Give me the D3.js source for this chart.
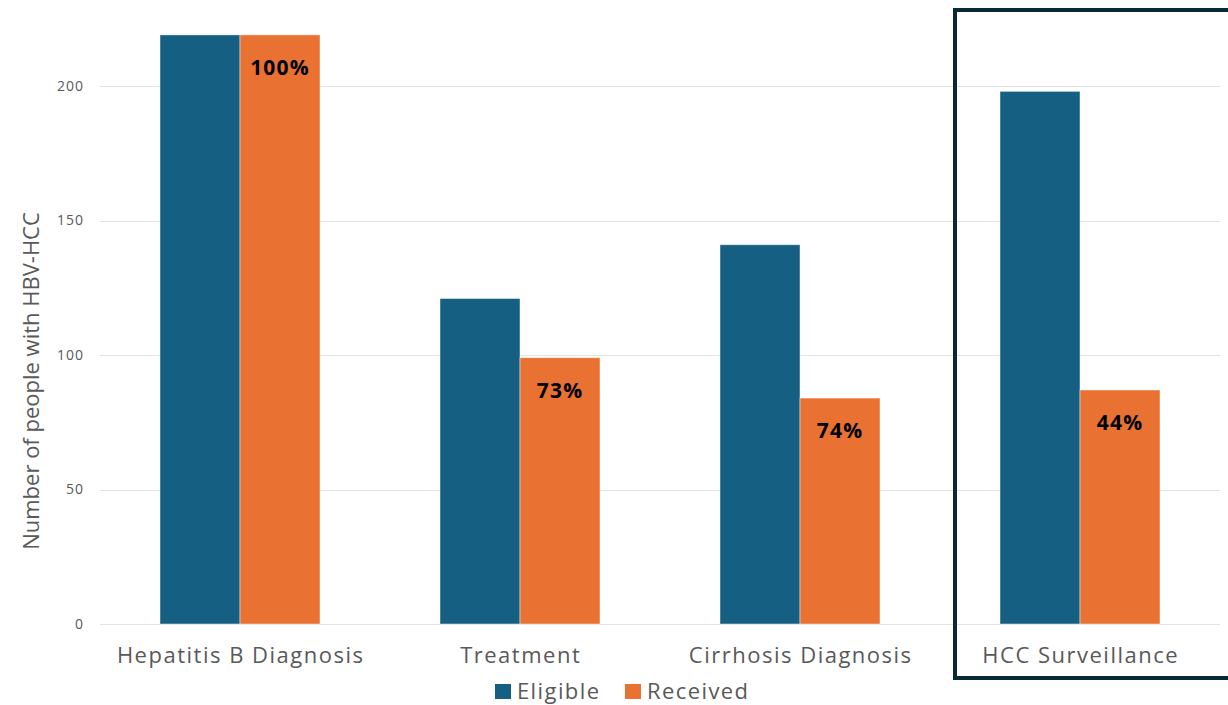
<!DOCTYPE html>
<html>
<head>
<meta charset="utf-8">
<script src="https://cdn.jsdelivr.net/npm/d3@7"></script>
<style>
  html, body { margin: 0; padding: 0; background: #fff; }
  svg { display: block; font-family: "Open Sans", "Noto Sans", sans-serif; }
</style>
</head>
<body>
<svg id="chart" width="1228" height="705"></svg>
<script>
// Care cascade for people with HBV-related HCC
const categories = ["Hepatitis B Diagnosis", "Treatment", "Cirrhosis Diagnosis", "HCC Surveillance"];
const seriesNames = ["Eligible", "Received"];
const eligible = [219, 121, 141, 198];
const received = [219, 99, 84, 87];
const pctLabels = ["100%", "73%", "74%", "44%"];
const yTicks = [0, 50, 100, 150, 200];
const colors = ["#156082", "#E97132"];

const svg = d3.select("#chart");
const plotLeft = 100, plotRight = 1220, plotBottom = 624;

const x = d3.scaleBand()
  .domain(categories)
  .range([plotLeft, plotRight])
  .paddingInner(120 / 280)
  .paddingOuter(60 / 280);

const xSub = d3.scaleBand()
  .domain(seriesNames)
  .range([0, x.bandwidth()]);

const y = d3.scaleLinear()
  .domain([0, 200])
  .range([plotBottom, 86]);

// Gridlines
svg.append("g")
  .selectAll("line")
  .data(yTicks)
  .join("line")
  .attr("x1", plotLeft)
  .attr("x2", plotRight)
  .attr("y1", d => Math.round(y(d)) + 0.5)
  .attr("y2", d => Math.round(y(d)) + 0.5)
  .attr("stroke", "#e3e3e3")
  .attr("stroke-width", 1.2);

// Y axis labels
const yAxis = d3.axisLeft(y).tickValues(yTicks).tickSize(0).tickPadding(0);
const gy = svg.append("g").attr("transform", `translate(84,0)`).call(yAxis);
gy.select(".domain").remove();
gy.selectAll("text")
  .attr("fill", "#595959")
  .style("font-size", "14px")
  .style("letter-spacing", "1px")
  .style("font-family", "'Open Sans', sans-serif");

// Y axis title
svg.append("text")
  .attr("transform", `translate(39,381) rotate(-90)`)
  .attr("text-anchor", "middle")
  .attr("fill", "#595959")
  .style("font-size", "22px")
  .text("Number of people with HBV-HCC");

// Bars
const rows = categories.map((c, i) => ({ cat: c, values: [eligible[i], received[i]], pct: pctLabels[i] }));

const groups = svg.append("g")
  .selectAll("g")
  .data(rows)
  .join("g")
  .attr("transform", d => `translate(${x(d.cat)},0)`);

groups.selectAll("rect")
  .data(d => d.values.map((v, j) => ({ name: seriesNames[j], v, j })))
  .join("rect")
  .attr("x", d => xSub(d.name))
  .attr("width", xSub.bandwidth())
  .attr("y", d => y(d.v))
  .attr("height", d => y(0) - y(d.v))
  .attr("fill", d => colors[d.j])
  .attr("stroke", "rgba(255,255,255,0.45)")
  .attr("stroke-width", 1);

// Percentage labels on received bars
groups.append("text")
  .attr("x", xSub("Received") + xSub.bandwidth() / 2)
  .attr("y", d => y(d.values[1]) + 40)
  .attr("text-anchor", "middle")
  .attr("fill", "#000")
  .style("font-size", "21px")
  .style("font-weight", "700")
  .style("letter-spacing", "1.2px")
  .text(d => d.pct);

// Category axis
const xAxis = d3.axisBottom(x).tickSize(0).tickPadding(0);
const gx = svg.append("g").attr("transform", `translate(0,663)`).call(xAxis);
gx.select(".domain").remove();
gx.selectAll("text")
  .attr("dy", 0)
  .attr("dx", "0.7px")
  .attr("fill", "#595959")
  .style("font-size", "22px")
  .style("letter-spacing", "1.5px")
  .style("font-family", "'Open Sans', sans-serif");

// Highlight frame around the surveillance group
svg.append("rect")
  .attr("x", 955)
  .attr("y", 10)
  .attr("width", 300)
  .attr("height", 668)
  .attr("fill", "none")
  .attr("stroke", "#0b2838")
  .attr("stroke-width", 4);

// Legend
const legend = svg.append("g").attr("transform", "translate(495,699)");
const legendX = [0, 130];
seriesNames.forEach((name, i) => {
  const g = legend.append("g").attr("transform", `translate(${legendX[i]},0)`);
  g.append("rect")
    .attr("x", 0).attr("y", -15)
    .attr("width", 16).attr("height", 15)
    .attr("fill", colors[i]);
  g.append("text")
    .attr("x", 22).attr("y", 0)
    .attr("fill", "#595959")
    .style("font-size", "22px")
    .style("letter-spacing", "1.4px")
    .text(name);
});
</script>
</body>
</html>
